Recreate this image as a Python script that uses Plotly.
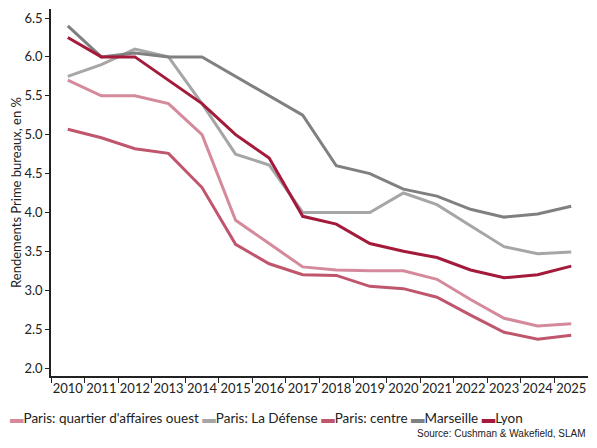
import plotly.graph_objects as go

years = [str(y) for y in range(2010, 2026)]

qao = [5.70, 5.50, 5.50, 5.40, 5.00, 3.90, 3.60, 3.30, 3.26, 3.25, 3.25, 3.14, 2.88, 2.64, 2.54, 2.57]
defense = [5.75, 5.90, 6.10, 6.00, 5.40, 4.75, 4.61, 4.00, 4.00, 4.00, 4.25, 4.10, 3.83, 3.56, 3.47, 3.49]
centre = [5.07, 4.96, 4.82, 4.76, 4.32, 3.59, 3.34, 3.20, 3.19, 3.05, 3.02, 2.91, 2.68, 2.46, 2.37, 2.42]
marseille = [6.40, 6.00, 6.05, 6.00, 6.00, 5.75, 5.50, 5.25, 4.60, 4.50, 4.30, 4.21, 4.04, 3.94, 3.98, 4.08]
lyon = [6.25, 6.00, 6.00, 5.70, 5.40, 5.00, 4.70, 3.95, 3.85, 3.60, 3.50, 3.42, 3.26, 3.16, 3.20, 3.31]

names = ["Paris: quartier d'affaires ouest", "Paris: La Défense", "Paris: centre", "Marseille", "Lyon"]
series = [qao, defense, centre, marseille, lyon]
colors = ["#d48a9a", "#a6a6a6", "#c0566c", "#808080", "#a31a3a"]

FONT = "Lato"
# page body adds an 8px margin on every side; keep the figure small enough
# that no scrollbar appears
W, H = 580, 430
ml, mr, mt, mb = 43, 0, 1, 62
pw, ph = W - ml - mr, H - mt - mb
bottom = H - mb

fig = go.Figure()
for name, vals, col in zip(names, series, colors):
    fig.add_trace(go.Scatter(x=years, y=vals, name=name, mode="lines",
                             line=dict(color=col, width=3), showlegend=False))

# legend drawn as one line of text with coloured swatches
leg = "".join(
    f"<span style='color:{c}'>▬</span>{n} " for n, c in zip(names, colors)
)
fig.add_annotation(text=leg.strip(), xref="paper", yref="paper",
                   x=(0 - ml) / pw, y=-(410 - bottom) / ph,
                   xanchor="left", yanchor="middle", showarrow=False,
                   font=dict(family=FONT, size=13.5, color="#222"))
fig.add_annotation(text="Source: Cushman & Wakefield, SLAM", xref="paper", yref="paper",
                   x=1.0, y=-(425 - bottom) / ph, xanchor="right", yanchor="middle",
                   showarrow=False, font=dict(family="Liberation Sans", size=10, color="#222"))

fig.update_xaxes(type="category", range=[-0.5, len(years) - 0.5],
                 showline=True, linecolor="#222", linewidth=1.5,
                 ticks="outside", tickson="boundaries", ticklen=5, tickcolor="#222",
                 tickangle=0, automargin=False,
                 showgrid=False, tickfont=dict(family=FONT, size=13, color="#222"))
fig.update_yaxes(range=[2.0 - 8 / 77.78, 6.5 + 9 / 77.78], tick0=2.0, dtick=0.5,
                 tickformat=".1f", showline=True, linecolor="#222", linewidth=1.5,
                 ticks="outside", ticklen=4, tickcolor="#222", showgrid=False,
                 zeroline=False, automargin=False,
                 tickfont=dict(family=FONT, size=13, color="#222"),
                 title=dict(text="Rendements Prime bureaux, en %", standoff=4,
                            font=dict(family=FONT, size=13, color="#222")))
fig.update_layout(width=W, height=H, margin=dict(l=ml, r=mr, t=mt, b=mb),
                  paper_bgcolor="white", plot_bgcolor="white",
                  font=dict(family=FONT, color="#222"))
fig.write_html("out.html")
